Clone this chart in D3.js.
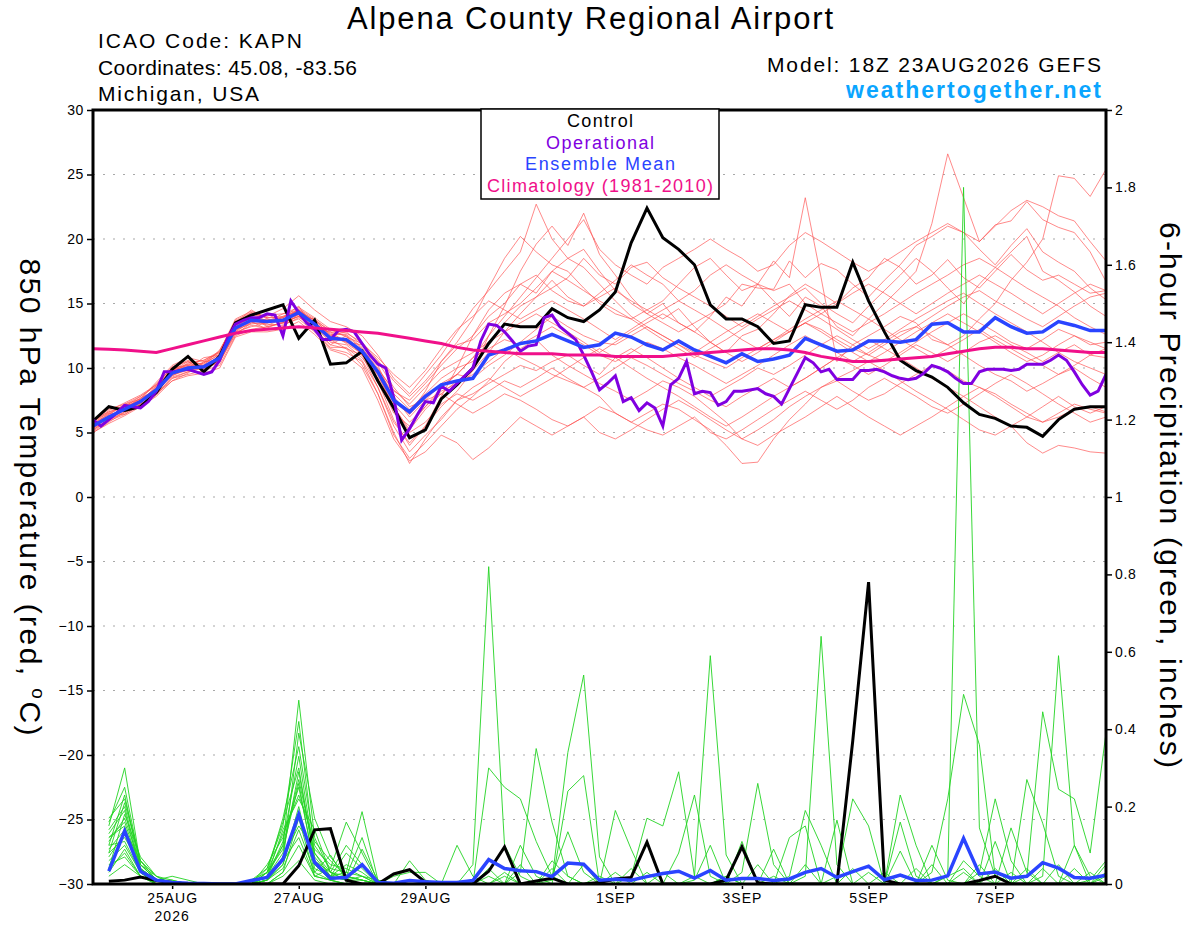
<!DOCTYPE html>
<html>
<head>
<meta charset="utf-8">
<script src="https://cdn.jsdelivr.net/npm/d3@7"></script>
<style>
  body { margin: 0; background: #fff; }
  svg { display: block; }
  text { font-family: "Liberation Sans", Arial, Helvetica, sans-serif; }
</style>
</head>
<body>
<svg id="chart" width="1200" height="927"></svg>
<script>
// GEFS plume - Alpena County Regional Airport (KAPN), run 18Z 23AUG2026
// temperature series are 6-hourly from hour 0, operational is 3-hourly,
// precipitation series are 6-hourly from hour 6

const dateTicks = [30, 78, 126, 198, 246, 294, 342]; // forecast hours at 00Z
const dateLabels = ['25AUG', '27AUG', '29AUG', '1SEP', '3SEP', '5SEP', '7SEP'];
const tempTicks = d3.range(-30, 31, 5);
const precipTicks = [0, 0.2, 0.4, 0.6, 0.8, 1, 1.2, 1.4, 1.6, 1.8, 2];

const controlTemp = [5.9, 7.0, 6.7, 7.0, 8.1, 9.9, 10.9, 9.7, 10.9, 13.5,
  14.1, 14.5, 14.9, 12.3, 13.7, 10.3, 10.4, 11.3, 9.0, 6.9,
  4.6, 5.2, 7.6, 8.7, 10.0, 11.9, 13.4, 13.2, 13.2, 14.6,
  13.9, 13.6, 14.5, 15.9, 19.7, 22.4, 20.1, 19.2, 18.0, 14.9,
  13.8, 13.8, 13.2, 11.9, 12.1, 14.9, 14.7, 14.7, 18.2, 15.2,
  12.8, 10.6, 9.8, 9.3, 8.5, 7.3, 6.4, 6.1, 5.5, 5.4,
  4.7, 6.0, 6.8, 7.0, 7.0];

const operationalTemp = [6.0, 5.5, 6.0, 6.5, 7.1, 7.0, 6.9, 7.4, 8.2, 9.7,
  9.7, 9.8, 9.9, 9.7, 9.5, 9.7, 10.6, 12.3, 13.4, 13.7,
  13.9, 13.9, 14.2, 14.1, 12.5, 15.2, 14.3, 13.5, 13.0, 12.2,
  12.2, 12.9, 13.0, 12.8, 11.9, 11.0, 10.3, 10.0, 7.7, 4.4,
  5.3, 6.4, 7.4, 7.3, 8.6, 8.2, 8.8, 9.4, 10.0, 12.1,
  13.4, 13.3, 12.8, 12.1, 11.3, 11.7, 11.8, 13.9, 14.1, 13.2,
  12.7, 12.2, 11.0, 9.7, 8.3, 8.8, 9.4, 7.4, 7.7, 6.7,
  7.3, 6.9, 5.5, 8.7, 9.2, 10.5, 8.0, 8.2, 8.1, 7.1,
  7.4, 8.2, 8.2, 8.3, 8.4, 8.0, 7.8, 7.2, 8.4, 9.6,
  10.8, 10.4, 9.7, 9.9, 9.1, 9.1, 9.1, 9.8, 9.8, 9.9,
  9.7, 9.4, 9.2, 9.1, 9.2, 9.6, 10.2, 10.0, 9.7, 9.2,
  8.8, 8.8, 9.7, 9.9, 9.9, 9.9, 9.8, 9.9, 10.3, 10.3,
  10.3, 10.6, 11.0, 10.6, 9.7, 8.7, 7.9, 8.2, 9.5];

const meanTemp = [5.5, 6.2, 6.8, 7.4, 8.3, 9.6, 10.0, 10.1, 10.8, 13.1,
  13.7, 13.6, 13.7, 14.3, 13.4, 12.3, 12.2, 11.3, 9.7, 7.5,
  6.6, 7.8, 8.7, 9.0, 9.2, 11.0, 11.4, 11.9, 12.1, 12.6,
  12.1, 11.6, 11.8, 12.7, 12.4, 11.8, 11.4, 12.1, 11.4, 10.9,
  10.4, 11.1, 10.5, 10.7, 11.0, 12.3, 11.8, 11.3, 11.4, 12.1,
  12.1, 12.0, 12.2, 13.4, 13.5, 12.8, 12.8, 13.9, 13.2, 12.7,
  12.8, 13.6, 13.3, 12.9, 12.9];

const climoTemp = [11.5, 11.45, 11.4, 11.3, 11.2, 11.5, 11.8, 12.1, 12.4, 12.7,
  12.9, 13.0, 13.1, 13.2, 13.1, 13.0, 12.9, 12.8, 12.7, 12.5,
  12.3, 12.1, 11.9, 11.6, 11.4, 11.3, 11.2, 11.1, 11.1, 11.1,
  11.0, 11.0, 11.0, 10.9, 10.9, 10.9, 10.9, 11.0, 11.1, 11.2,
  11.3, 11.4, 11.5, 11.5, 11.4, 11.2, 10.9, 10.7, 10.5, 10.5,
  10.6, 10.7, 10.8, 10.9, 11.1, 11.3, 11.5, 11.6, 11.6, 11.5,
  11.5, 11.4, 11.3, 11.2, 11.2];

// ensemble member 850 hPa temperatures
const memberTemp01 = [5.2, 6.0, 6.9, 7.6, 8.9, 10.2, 10.8, 10.5, 11.2, 13.6, 14.2, 14.0, 14.6, 15.6, 14.5, 13.6, 13.2, 12.5, 11.0, 9.2, 8.0, 9.5, 11.0, 12.8, 14.6, 16.0, 17.5, 19.0, 22.7, 20.0, 18.5, 19.2, 17.5, 16.0, 15.2, 14.5, 13.8, 14.6, 13.2, 12.0, 11.2, 12.5, 13.0, 14.2, 15.6, 16.5, 15.8, 15.0, 16.2, 17.0, 18.5, 17.8, 16.5, 17.2, 18.4, 17.0, 16.2, 17.5, 18.8, 17.6, 16.8, 17.2, 16.5, 15.8, 16.0];
const memberTemp02 = [5.6, 6.5, 6.4, 7.2, 8.0, 9.2, 9.7, 10.4, 11.0, 12.8, 13.2, 13.5, 13.9, 14.8, 13.0, 11.8, 12.5, 11.0, 8.5, 5.8, 4.2, 5.5, 7.0, 8.2, 9.8, 12.5, 14.8, 17.5, 19.6, 21.0, 19.5, 22.0, 18.8, 17.2, 15.5, 14.2, 15.0, 13.5, 12.8, 14.0, 15.5, 14.8, 16.5, 15.2, 14.0, 15.5, 14.8, 13.2, 12.5, 13.8, 15.0, 16.2, 17.5, 21.2, 26.6, 23.2, 19.8, 21.1, 21.4, 22.9, 21.5, 20.9, 20.5, 19.0, 16.7];
const memberTemp03 = [5.9, 6.8, 7.2, 7.8, 8.6, 9.8, 10.5, 9.8, 10.6, 13.2, 14.0, 13.2, 13.5, 14.0, 13.8, 12.8, 12.0, 11.8, 10.2, 7.5, 6.5, 8.2, 10.5, 12.0, 13.8, 16.2, 18.5, 20.2, 19.0, 18.0, 17.5, 16.2, 15.0, 14.2, 13.8, 14.5, 15.2, 16.5, 17.8, 18.5, 17.2, 16.0, 16.5, 18.3, 17.0, 23.2, 17.0, 10.5, 11.8, 12.5, 13.2, 14.0, 13.5, 12.2, 11.8, 12.5, 13.8, 15.0, 16.8, 18.2, 20.0, 24.9, 24.7, 23.3, 25.4];
const memberTemp04 = [5.0, 5.8, 6.6, 7.0, 8.2, 9.5, 10.0, 10.2, 10.5, 12.6, 13.5, 13.8, 13.4, 13.8, 12.8, 11.5, 11.2, 10.5, 8.0, 5.0, 2.6, 4.5, 6.2, 7.5, 8.0, 8.8, 9.5, 10.2, 9.8, 10.5, 11.0, 10.2, 9.5, 10.8, 11.5, 10.8, 10.0, 9.2, 8.5, 7.8, 8.5, 9.2, 10.0, 9.5, 10.2, 11.0, 11.8, 12.5, 11.8, 11.0, 10.5, 11.2, 12.0, 12.8, 13.5, 14.2, 13.5, 12.8, 12.0, 11.5, 12.2, 13.0, 12.5, 11.8, 12.0];
const memberTemp05 = [5.4, 6.2, 7.0, 7.5, 8.5, 9.8, 10.2, 10.0, 11.0, 13.4, 14.0, 13.5, 14.0, 14.5, 13.6, 12.5, 12.2, 11.0, 9.5, 7.0, 5.0, 5.8, 7.2, 8.0, 7.5, 8.2, 9.0, 8.5, 9.2, 10.0, 9.2, 8.5, 7.8, 6.5, 5.8, 6.5, 7.2, 6.8, 6.0, 5.2, 4.0, 2.6, 2.7, 4.5, 6.0, 7.2, 8.5, 9.0, 8.2, 7.5, 8.0, 8.8, 9.5, 10.2, 9.8, 9.0, 8.5, 7.8, 7.0, 6.2, 5.8, 6.5, 7.2, 6.8, 6.5];
const memberTemp06 = [6.0, 6.6, 7.0, 7.4, 8.0, 9.0, 9.6, 10.5, 10.6, 12.8, 13.6, 13.0, 13.2, 14.2, 13.0, 12.8, 12.5, 11.5, 10.0, 8.2, 7.5, 8.8, 10.2, 11.5, 12.5, 14.0, 15.0, 16.5, 17.2, 16.0, 15.2, 14.8, 15.5, 16.2, 15.0, 14.2, 13.5, 12.8, 13.5, 14.2, 15.0, 16.5, 16.2, 16.1, 18.3, 17.0, 18.1, 17.6, 16.5, 15.5, 16.8, 18.0, 19.5, 20.2, 21.0, 20.5, 19.2, 18.0, 19.5, 20.8, 19.0, 18.2, 17.5, 16.2, 15.3];
const memberTemp07 = [5.3, 6.0, 6.5, 7.3, 8.4, 9.5, 9.8, 10.0, 10.4, 12.9, 13.8, 14.2, 13.5, 14.0, 13.2, 12.0, 11.8, 10.8, 9.2, 6.5, 5.5, 7.0, 8.5, 9.5, 10.8, 11.5, 12.2, 11.8, 12.5, 13.2, 12.5, 11.8, 11.0, 10.5, 11.2, 12.0, 11.5, 10.8, 10.2, 9.5, 8.8, 9.5, 10.2, 11.0, 11.8, 12.5, 11.8, 11.2, 10.5, 11.2, 12.0, 12.8, 13.2, 12.5, 11.8, 11.0, 10.2, 9.5, 9.0, 8.2, 8.8, 9.5, 10.0, 9.2, 8.5];
const memberTemp08 = [5.7, 6.4, 7.2, 7.6, 8.8, 10.0, 10.6, 10.2, 11.4, 13.5, 14.5, 13.8, 13.6, 14.6, 13.8, 12.5, 12.8, 11.8, 10.5, 8.5, 7.0, 7.5, 8.0, 7.2, 6.5, 7.2, 8.0, 7.5, 6.8, 6.0, 5.5, 6.2, 7.0, 6.5, 5.8, 5.2, 4.8, 5.5, 6.2, 5.0, 4.5, 5.2, 6.0, 6.8, 7.5, 8.2, 7.5, 6.8, 7.5, 8.5, 9.2, 8.5, 7.8, 7.0, 6.5, 7.2, 8.0, 8.8, 9.5, 8.8, 8.0, 7.2, 6.5, 5.8, 6.2];
const memberTemp09 = [5.5, 6.1, 6.8, 7.7, 8.2, 9.4, 10.0, 10.8, 11.0, 13.0, 13.4, 13.6, 14.2, 14.5, 13.5, 12.2, 11.5, 11.0, 9.8, 8.0, 6.8, 8.0, 9.2, 10.0, 10.5, 12.0, 13.5, 14.8, 15.5, 16.2, 17.0, 18.5, 17.2, 16.5, 17.8, 18.2, 17.0, 16.2, 15.5, 14.8, 14.0, 13.2, 14.0, 14.8, 15.5, 16.2, 15.0, 14.2, 13.5, 14.8, 16.0, 17.2, 18.5, 17.5, 16.2, 15.0, 16.5, 17.8, 19.0, 20.2, 17.5, 16.8, 15.9, 14.8, 14.0];
const memberTemp10 = [5.1, 5.9, 6.4, 7.1, 7.9, 9.2, 9.5, 9.8, 10.2, 12.5, 13.0, 13.2, 13.5, 14.2, 13.0, 11.8, 11.5, 10.2, 8.0, 4.8, 3.0, 4.2, 5.5, 6.8, 7.8, 9.0, 10.5, 11.5, 12.2, 11.0, 10.2, 9.5, 8.8, 8.2, 7.5, 8.2, 9.0, 8.5, 7.8, 6.8, 5.8, 4.5, 5.2, 6.0, 7.0, 7.8, 8.5, 9.2, 9.8, 10.5, 9.8, 9.0, 8.2, 7.5, 6.8, 6.0, 5.2, 4.8, 5.5, 4.2, 3.4, 4.0, 3.8, 3.5, 3.4];
const memberTemp11 = [5.8, 6.7, 7.3, 7.9, 8.7, 10.0, 10.2, 10.4, 11.3, 13.8, 14.4, 13.9, 14.0, 14.4, 13.7, 12.6, 12.6, 11.6, 9.8, 7.8, 6.2, 7.5, 8.8, 9.5, 9.2, 10.2, 11.0, 12.0, 13.0, 14.0, 13.2, 12.5, 12.0, 11.8, 12.5, 13.2, 12.5, 11.8, 11.0, 10.5, 10.0, 10.8, 11.5, 12.2, 12.8, 13.5, 13.0, 12.2, 11.5, 11.0, 11.8, 12.5, 13.2, 14.0, 14.8, 15.5, 16.0, 15.2, 14.5, 13.8, 13.2, 14.0, 14.8, 15.5, 15.8];
const memberTemp12 = [5.4, 6.3, 6.7, 7.5, 8.1, 9.7, 10.3, 10.0, 10.9, 13.3, 13.9, 13.3, 13.8, 14.1, 13.1, 12.4, 12.0, 11.2, 9.0, 6.0, 4.0, 5.5, 7.8, 10.0, 12.5, 14.5, 15.8, 16.5, 15.8, 17.5, 18.5, 17.8, 16.5, 15.2, 14.0, 13.2, 12.5, 11.8, 11.2, 12.0, 12.8, 13.5, 14.2, 13.5, 12.8, 13.5, 14.2, 15.0, 15.8, 16.5, 15.8, 15.0, 14.2, 15.0, 15.8, 16.5, 17.2, 16.5, 15.8, 15.0, 14.2, 15.0, 15.8, 16.5, 16.0];
const memberTemp13 = [5.6, 6.2, 6.9, 7.3, 8.3, 9.4, 9.9, 10.1, 10.7, 12.9, 13.5, 13.4, 13.3, 13.9, 13.3, 12.1, 12.3, 11.4, 9.6, 7.2, 5.8, 7.0, 8.2, 8.8, 9.5, 10.5, 11.5, 10.8, 10.2, 9.5, 9.0, 8.5, 9.2, 10.0, 10.8, 10.2, 9.5, 8.8, 8.2, 7.5, 7.0, 7.8, 8.5, 9.2, 8.5, 9.2, 10.0, 10.8, 10.2, 9.5, 10.2, 11.0, 11.8, 11.2, 10.5, 11.2, 12.0, 12.5, 11.8, 11.2, 10.5, 11.2, 11.8, 11.0, 10.8];
const memberTemp14 = [5.2, 6.0, 6.6, 7.4, 8.6, 9.9, 10.1, 9.9, 10.8, 13.2, 13.9, 13.7, 13.7, 14.3, 13.4, 12.7, 11.9, 11.1, 9.4, 7.0, 5.2, 6.8, 8.0, 9.0, 9.8, 11.2, 12.8, 14.2, 15.5, 16.8, 15.5, 14.8, 15.8, 16.8, 18.0, 17.2, 16.5, 15.2, 14.5, 13.8, 13.0, 12.2, 11.5, 12.2, 13.0, 13.8, 14.5, 15.2, 14.5, 13.8, 13.0, 12.2, 11.5, 10.8, 11.5, 12.2, 13.0, 12.2, 11.5, 10.8, 10.2, 9.5, 10.2, 11.0, 11.5];
const memberTemp15 = [5.9, 6.5, 7.1, 7.6, 8.4, 9.6, 10.4, 10.6, 11.2, 13.6, 14.1, 14.1, 14.2, 14.7, 13.9, 13.0, 12.4, 11.9, 10.8, 9.5, 8.5, 9.8, 11.5, 13.0, 14.0, 15.2, 14.5, 13.8, 14.5, 15.2, 14.5, 13.8, 13.0, 12.2, 13.0, 13.8, 14.5, 15.2, 16.0, 17.2, 18.0, 17.2, 16.5, 16.0, 16.5, 15.0, 14.2, 13.5, 12.8, 13.5, 14.2, 15.0, 15.8, 16.5, 17.2, 18.0, 18.5, 17.8, 17.0, 16.2, 15.5, 14.8, 13.9, 13.2, 12.6];
const memberTemp16 = [5.4, 6.1, 6.7, 7.2, 8.0, 9.3, 9.7, 10.0, 10.5, 12.7, 13.3, 13.1, 13.6, 14.0, 12.9, 11.6, 11.6, 10.6, 8.5, 5.5, 3.5, 4.8, 6.0, 7.5, 8.5, 9.2, 8.5, 7.8, 8.5, 9.2, 10.0, 10.8, 11.5, 10.8, 10.0, 9.2, 8.5, 7.8, 7.0, 6.2, 5.5, 6.2, 7.0, 7.8, 8.5, 9.2, 10.0, 10.8, 11.5, 12.2, 11.5, 10.8, 10.0, 9.2, 8.5, 7.8, 7.0, 6.2, 5.5, 6.2, 7.0, 7.8, 7.0, 6.5, 7.0];
const memberTemp17 = [5.7, 6.6, 7.0, 7.8, 8.7, 10.1, 10.5, 10.3, 11.1, 13.4, 14.3, 13.6, 13.9, 14.4, 13.5, 12.3, 12.1, 11.3, 9.9, 8.3, 7.2, 8.5, 9.8, 10.5, 11.2, 12.0, 12.8, 13.5, 14.2, 13.5, 12.8, 12.0, 11.2, 12.0, 12.8, 13.5, 14.2, 13.5, 12.8, 12.0, 11.2, 10.5, 11.2, 12.0, 12.8, 13.5, 12.8, 12.0, 11.2, 10.5, 11.2, 12.0, 12.8, 13.5, 14.2, 13.5, 12.8, 12.0, 11.2, 10.5, 11.0, 11.8, 12.5, 12.0, 11.5];
const memberTemp18 = [5.3, 6.3, 6.8, 7.5, 8.4, 9.7, 10.1, 10.2, 10.9, 13.1, 13.7, 13.5, 13.7, 14.3, 13.4, 12.2, 12.2, 11.2, 9.6, 7.4, 6.4, 7.7, 8.6, 9.5, 10.8, 12.5, 14.0, 15.5, 17.0, 18.5, 20.0, 21.5, 19.2, 18.0, 17.2, 16.5, 17.8, 18.5, 19.2, 20.0, 19.2, 18.5, 17.5, 18.0, 19.5, 20.5, 19.8, 19.0, 18.2, 17.5, 18.2, 19.0, 19.8, 20.5, 21.2, 20.5, 19.8, 21.0, 22.2, 23.0, 22.5, 21.8, 21.4, 19.8, 18.3];
const memberTemp19 = [5.0, 5.7, 6.3, 7.0, 7.8, 9.0, 9.4, 9.6, 10.0, 12.4, 12.8, 12.8, 13.0, 13.6, 12.6, 11.4, 11.0, 10.0, 7.5, 4.5, 2.8, 3.5, 4.8, 4.2, 2.9, 3.8, 5.0, 6.2, 5.5, 4.8, 5.5, 6.2, 5.0, 4.5, 5.2, 6.0, 6.8, 7.5, 6.8, 6.0, 5.2, 4.5, 4.0, 4.8, 5.5, 6.2, 7.0, 7.8, 7.0, 6.2, 5.5, 4.8, 5.5, 6.2, 7.0, 7.8, 8.5, 8.0, 7.2, 6.5, 5.8, 6.2, 6.8, 7.0, 6.6];
const memberTemp20 = [5.6, 6.4, 7.1, 7.3, 8.5, 9.9, 10.3, 10.6, 11.3, 13.7, 14.3, 13.9, 13.9, 14.5, 13.7, 12.9, 12.7, 12.0, 10.6, 9.0, 7.8, 9.0, 10.5, 11.8, 12.2, 13.5, 14.2, 15.0, 16.2, 17.5, 16.8, 16.0, 15.2, 14.5, 13.8, 13.0, 12.2, 11.5, 10.8, 11.5, 12.2, 13.0, 13.8, 14.5, 15.2, 14.5, 13.8, 13.0, 12.2, 11.5, 12.2, 13.0, 13.8, 14.5, 15.2, 15.8, 15.0, 14.2, 13.5, 12.8, 12.0, 11.2, 10.5, 10.0, 9.5];

const controlPrecip = [0.007, 0.01, 0.018, 0.009, 0.004, 0, 0, 0, 0, 0, 0, 0, 0.047, 0.14, 0.143, 0.01, 0, 0, 0.026, 0.037, 0.005, 0, 0, 0, 0.033, 0.096, 0, 0.008, 0.015, 0, 0, 0.004, 0.013, 0.017, 0.108, 0, 0, 0, 0, 0.01, 0.096, 0.003, 0, 0, 0, 0, 0, 0.37, 0.78, 0.01, 0, 0, 0, 0, 0, 0.009, 0.02, 0, 0, 0, 0, 0, 0, 0];
const meanPrecip = [0.033, 0.137, 0.033, 0.01, 0.004, 0.002, 0.001, 0, 0, 0.009, 0.017, 0.064, 0.18, 0.056, 0.015, 0.017, 0.05, 0.004, 0.002, 0.009, 0.006, 0.004, 0.004, 0.009, 0.063, 0.04, 0.034, 0.032, 0.019, 0.054, 0.051, 0.01, 0.012, 0.01, 0.019, 0.027, 0.033, 0.015, 0.035, 0.01, 0.014, 0.014, 0.009, 0.013, 0.03, 0.04, 0.017, 0.032, 0.046, 0.011, 0.023, 0.009, 0.01, 0.021, 0.118, 0.026, 0.031, 0.015, 0.02, 0.055, 0.041, 0.017, 0.015, 0.023];

// ensemble member 6-hour precipitation
const memberPrecip01 = [0.15, 0.30, 0.05, 0.01, 0, 0, 0, 0, 0, 0, 0.02, 0.10, 0.475, 0.12, 0.03, 0.01, 0, 0, 0, 0.06, 0.01, 0, 0, 0.05, 0.82, 0.10, 0.02, 0, 0, 0, 0, 0, 0, 0, 0, 0, 0, 0.01, 0.10, 0, 0, 0, 0, 0, 0.02, 0.64, 0.05, 0, 0, 0, 0, 0, 0, 0, 0.03, 0, 0, 0, 0, 0.02, 0.59, 0.10, 0, 0];
const memberPrecip02 = [0.10, 0.23, 0.04, 0, 0, 0, 0, 0, 0, 0, 0.04, 0.15, 0.42, 0.08, 0.02, 0.05, 0.03, 0, 0, 0, 0, 0, 0, 0, 0.30, 0.25, 0.22, 0.11, 0.02, 0, 0, 0, 0, 0, 0, 0, 0, 0, 0, 0, 0.03, 0.26, 0.05, 0, 0, 0, 0, 0, 0, 0, 0, 0, 0, 0.02, 1.80, 0.145, 0.02, 0, 0, 0, 0, 0, 0.01, 0.06];
const memberPrecip03 = [0.17, 0.22, 0.06, 0.01, 0.01, 0, 0, 0, 0, 0, 0.01, 0.06, 0.39, 0.17, 0.07, 0.02, 0.01, 0, 0, 0, 0, 0, 0.10, 0.02, 0, 0, 0, 0, 0.01, 0.34, 0.54, 0.07, 0, 0, 0, 0, 0, 0, 0, 0, 0, 0, 0, 0, 0, 0, 0, 0, 0, 0, 0.23, 0.10, 0, 0, 0, 0, 0, 0, 0.02, 0.445, 0.245, 0.22, 0.08, 0.39];
const memberPrecip04 = [0.04, 0.18, 0.07, 0.02, 0, 0, 0, 0, 0, 0.01, 0.03, 0.17, 0.355, 0.10, 0.04, 0.16, 0.08, 0, 0, 0, 0, 0, 0, 0, 0, 0, 0.03, 0.35, 0.16, 0.02, 0, 0, 0, 0, 0, 0, 0, 0.02, 0.59, 0.075, 0, 0, 0, 0, 0, 0, 0, 0, 0, 0, 0, 0, 0.03, 0.22, 0.49, 0.36, 0.02, 0, 0, 0, 0, 0, 0, 0];
const memberPrecip05 = [0.12, 0.15, 0.03, 0, 0, 0, 0, 0, 0, 0, 0.02, 0.08, 0.29, 0.06, 0.02, 0.03, 0.187, 0.01, 0, 0, 0, 0, 0, 0, 0, 0, 0.10, 0.02, 0, 0.24, 0.28, 0, 0, 0, 0, 0, 0, 0, 0, 0, 0, 0, 0, 0.02, 0.19, 0.10, 0, 0, 0, 0, 0, 0, 0, 0, 0, 0.03, 0.22, 0.06, 0, 0, 0, 0, 0, 0];
const memberPrecip06 = [0.08, 0.12, 0.05, 0.01, 0, 0, 0, 0, 0, 0, 0.05, 0.12, 0.25, 0.05, 0.01, 0.02, 0.12, 0, 0, 0, 0, 0, 0, 0, 0, 0, 0, 0, 0.02, 0.135, 0.03, 0, 0.19, 0.09, 0, 0, 0, 0, 0, 0, 0, 0, 0, 0, 0, 0, 0.02, 0.22, 0.15, 0, 0, 0, 0, 0, 0, 0, 0, 0, 0.27, 0.157, 0.02, 0, 0, 0];
const memberPrecip07 = [0.03, 0.09, 0.02, 0, 0, 0, 0, 0, 0, 0, 0.01, 0.05, 0.20, 0.03, 0.075, 0.01, 0.02, 0, 0, 0, 0, 0, 0, 0, 0.02, 0, 0, 0, 0, 0, 0, 0, 0, 0.02, 0.17, 0.15, 0.29, 0.02, 0, 0, 0, 0, 0, 0, 0, 0, 0, 0, 0, 0, 0.16, 0.02, 0, 0, 0, 0, 0.11, 0, 0, 0, 0, 0.10, 0.02, 0];
const memberPrecip08 = [0.14, 0.20, 0.04, 0.01, 0.02, 0.01, 0, 0, 0, 0, 0, 0.03, 0.17, 0.02, 0.01, 0, 0.09, 0.01, 0, 0, 0, 0, 0, 0, 0, 0, 0, 0, 0, 0, 0, 0, 0, 0, 0, 0, 0.08, 0.23, 0.02, 0, 0, 0, 0, 0.12, 0.15, 0, 0, 0, 0, 0, 0, 0, 0.10, 0.01, 0, 0, 0, 0.145, 0.03, 0, 0, 0, 0, 0];
const memberPrecip09 = [0.06, 0.10, 0.03, 0, 0, 0, 0, 0, 0, 0, 0.02, 0.14, 0.22, 0.14, 0.03, 0.10, 0.05, 0, 0, 0, 0, 0, 0, 0, 0, 0, 0, 0, 0, 0, 0, 0, 0, 0, 0, 0, 0, 0, 0, 0, 0.11, 0, 0, 0, 0, 0, 0.165, 0, 0, 0, 0.085, 0, 0, 0, 0, 0.05, 0, 0, 0, 0, 0, 0, 0, 0];
const memberPrecip10 = [0.11, 0.17, 0.05, 0.01, 0, 0, 0, 0, 0, 0, 0.03, 0.09, 0.26, 0.04, 0.02, 0.01, 0, 0, 0.02, 0.03, 0.03, 0, 0, 0, 0, 0, 0, 0, 0, 0, 0, 0, 0, 0, 0, 0, 0, 0, 0, 0, 0, 0, 0.09, 0, 0, 0, 0, 0, 0, 0, 0, 0.04, 0, 0, 0, 0, 0, 0, 0, 0, 0, 0, 0, 0.05];
const memberPrecip11 = [0.02, 0.05, 0.02, 0, 0, 0, 0, 0, 0, 0, 0, 0.02, 0.06, 0.01, 0, 0, 0, 0, 0, 0, 0, 0, 0, 0, 0.04, 0, 0, 0, 0.06, 0.02, 0, 0, 0, 0, 0, 0, 0, 0, 0, 0, 0, 0, 0, 0, 0.05, 0, 0, 0, 0, 0, 0, 0, 0, 0, 0.06, 0.02, 0, 0, 0, 0, 0, 0.04, 0, 0.02];
const memberPrecip12 = [0.09, 0.14, 0.06, 0.02, 0, 0, 0, 0, 0, 0, 0.01, 0.07, 0.15, 0.09, 0.05, 0.04, 0.02, 0, 0, 0.01, 0, 0, 0, 0, 0, 0.03, 0, 0, 0, 0, 0.05, 0, 0, 0.04, 0, 0, 0, 0, 0, 0, 0, 0, 0, 0, 0, 0, 0, 0, 0, 0.03, 0, 0, 0, 0, 0, 0, 0, 0, 0.04, 0, 0, 0, 0, 0.03];
const memberPrecip13 = [0.13, 0.19, 0.03, 0, 0, 0, 0, 0, 0, 0.01, 0.04, 0.16, 0.30, 0.06, 0.03, 0.01, 0.01, 0, 0, 0, 0, 0, 0, 0, 0, 0, 0, 0, 0, 0, 0, 0, 0.03, 0, 0, 0, 0, 0, 0, 0, 0, 0.05, 0, 0, 0, 0, 0, 0, 0, 0, 0, 0, 0, 0.02, 0.04, 0, 0, 0, 0, 0, 0.05, 0, 0, 0];
const memberPrecip14 = [0.05, 0.07, 0.02, 0, 0, 0, 0, 0, 0, 0, 0, 0.03, 0.10, 0.02, 0.01, 0, 0, 0, 0, 0, 0, 0, 0, 0, 0, 0, 0.05, 0, 0, 0, 0, 0, 0, 0, 0.03, 0, 0, 0, 0, 0, 0, 0, 0, 0, 0, 0, 0, 0, 0.03, 0, 0, 0, 0, 0, 0, 0, 0, 0, 0, 0, 0, 0, 0, 0];
const memberPrecip15 = [0.07, 0.13, 0.04, 0.01, 0, 0, 0, 0, 0, 0, 0.02, 0.11, 0.33, 0.07, 0.02, 0.08, 0.04, 0, 0, 0, 0, 0, 0, 0, 0, 0, 0, 0, 0.04, 0, 0, 0, 0, 0, 0, 0.03, 0, 0, 0, 0, 0, 0, 0, 0, 0, 0, 0, 0.04, 0, 0, 0, 0, 0, 0, 0, 0, 0.04, 0, 0, 0, 0, 0, 0, 0];
const memberPrecip16 = [0.16, 0.25, 0.05, 0.02, 0.01, 0, 0, 0, 0, 0, 0.03, 0.13, 0.23, 0.11, 0.06, 0.02, 0.01, 0, 0, 0, 0, 0, 0, 0, 0, 0, 0, 0, 0, 0, 0, 0, 0, 0, 0, 0, 0, 0, 0, 0.02, 0, 0, 0, 0, 0, 0, 0, 0, 0, 0, 0, 0, 0.05, 0, 0, 0, 0, 0, 0, 0, 0, 0, 0.03, 0];
const memberPrecip17 = [0.10, 0.11, 0.03, 0, 0, 0, 0, 0, 0, 0, 0.01, 0.04, 0.14, 0.03, 0.01, 0, 0, 0, 0, 0, 0, 0, 0, 0, 0, 0, 0, 0, 0, 0, 0, 0.02, 0, 0, 0, 0, 0, 0, 0, 0, 0, 0, 0.02, 0, 0, 0, 0, 0, 0, 0, 0, 0, 0, 0, 0, 0, 0, 0.03, 0, 0, 0, 0, 0, 0];
const memberPrecip18 = [0.04, 0.08, 0.02, 0, 0, 0, 0, 0, 0, 0, 0.02, 0.06, 0.12, 0.02, 0.04, 0.03, 0.02, 0.01, 0, 0, 0, 0, 0, 0, 0, 0, 0, 0, 0, 0, 0, 0, 0, 0, 0, 0, 0, 0, 0, 0, 0, 0, 0, 0, 0, 0, 0, 0, 0, 0, 0, 0, 0, 0, 0, 0, 0, 0, 0, 0.04, 0, 0, 0, 0];
const memberPrecip19 = [0.12, 0.16, 0.04, 0.01, 0, 0, 0, 0, 0, 0, 0.01, 0.05, 0.18, 0.05, 0.02, 0.01, 0, 0, 0, 0, 0, 0, 0, 0, 0, 0.02, 0, 0, 0, 0, 0, 0, 0, 0, 0, 0, 0, 0, 0, 0.02, 0, 0, 0, 0, 0, 0, 0, 0, 0, 0, 0, 0, 0, 0, 0, 0, 0, 0, 0, 0, 0, 0, 0, 0];
const memberPrecip20 = [0.08, 0.21, 0.06, 0.01, 0, 0, 0, 0, 0, 0, 0.03, 0.10, 0.27, 0.08, 0.03, 0.02, 0.01, 0, 0, 0, 0, 0, 0, 0, 0, 0, 0, 0, 0, 0, 0, 0, 0, 0, 0, 0, 0, 0, 0, 0, 0, 0, 0, 0, 0, 0, 0, 0, 0, 0, 0, 0, 0, 0, 0, 0, 0, 0, 0, 0, 0, 0, 0, 0];

const memberTemps = [memberTemp01, memberTemp02, memberTemp03, memberTemp04, memberTemp05,
  memberTemp06, memberTemp07, memberTemp08, memberTemp09, memberTemp10,
  memberTemp11, memberTemp12, memberTemp13, memberTemp14, memberTemp15,
  memberTemp16, memberTemp17, memberTemp18, memberTemp19, memberTemp20];
const memberPrecips = [memberPrecip01, memberPrecip02, memberPrecip03, memberPrecip04, memberPrecip05,
  memberPrecip06, memberPrecip07, memberPrecip08, memberPrecip09, memberPrecip10,
  memberPrecip11, memberPrecip12, memberPrecip13, memberPrecip14, memberPrecip15,
  memberPrecip16, memberPrecip17, memberPrecip18, memberPrecip19, memberPrecip20];

const legendLabels = ['Control', 'Operational', 'Ensemble Mean', 'Climatology (1981-2010)'];
const infoLines = ['ICAO Code: KAPN', 'Coordinates: 45.08, -83.56', 'Michigan, USA'];

// ---- styles ----
const COLORS = {
  control: '#000000',
  operational: '#8000e0',
  mean: '#2a44ff',
  climo: '#f0108a',
  member: '#ff5050',
  memberPrecip: '#22d422',
  site: '#0aa5ff'
};
const legendColors = [COLORS.control, COLORS.operational, COLORS.mean, COLORS.climo];
const legendWidths = [66, 108, 150, 226];
const infoWidths = [204, 259, 161];

// ---- layout ----
const plot = { left: 93, right: 1106, top: 110, bottom: 884 };
const svg = d3.select('#chart');

const x = d3.scaleLinear().domain([0, 384]).range([plot.left, plot.right]);
const yT = d3.scaleLinear().domain([-30, 30]).range([plot.bottom, plot.top]);
const yP = d3.scaleLinear().domain([0, 2]).range([plot.bottom, plot.top]);

svg.append('rect').attr('width', 1200).attr('height', 927).attr('fill', '#fff');

svg.append('clipPath').attr('id', 'plotClip')
  .append('rect')
  .attr('x', plot.left).attr('y', plot.top)
  .attr('width', plot.right - plot.left).attr('height', plot.bottom - plot.top);

// dotted grid every 5 degrees
svg.append('g')
  .selectAll('line')
  .data(tempTicks.filter(t => t > -30 && t < 30))
  .join('line')
  .attr('x1', plot.left).attr('x2', plot.right)
  .attr('y1', d => yT(d)).attr('y2', d => yT(d))
  .attr('stroke', '#a8a8a8')
  .attr('stroke-width', 1.2)
  .attr('stroke-dasharray', '2,8');

const tempLine = d3.line().x((d, i) => x(i * 6)).y(d => yT(d));
const opLine = d3.line().x((d, j) => x(j * 3)).y(d => yT(d));
const precipLine = d3.line().x((d, k) => x((k + 1) * 6)).y(d => yP(d));

const lines = svg.append('g').attr('clip-path', 'url(#plotClip)')
  .attr('fill', 'none').attr('stroke-linejoin', 'miter');

lines.selectAll('.member-t')
  .data(memberTemps)
  .join('path')
  .attr('class', 'member-t')
  .attr('d', tempLine)
  .attr('stroke', COLORS.member)
  .attr('stroke-opacity', 0.75)
  .attr('stroke-width', 0.9);

lines.selectAll('.member-p')
  .data(memberPrecips)
  .join('path')
  .attr('class', 'member-p')
  .attr('d', precipLine)
  .attr('stroke', COLORS.memberPrecip)
  .attr('stroke-width', 0.9);

lines.append('path').attr('d', precipLine(controlPrecip))
  .attr('stroke', COLORS.control).attr('stroke-width', 3);
lines.append('path').attr('d', precipLine(meanPrecip))
  .attr('stroke', COLORS.mean).attr('stroke-width', 3.5);

lines.append('path').attr('d', tempLine(controlTemp))
  .attr('stroke', COLORS.control).attr('stroke-width', 3);
lines.append('path').attr('d', opLine(operationalTemp))
  .attr('stroke', COLORS.operational).attr('stroke-width', 3);
lines.append('path').attr('d', tempLine(meanTemp))
  .attr('stroke', COLORS.mean).attr('stroke-width', 3.5);
lines.append('path').attr('d', tempLine(climoTemp))
  .attr('stroke', COLORS.climo).attr('stroke-width', 3);

// ---- axes ----
const axisFont = '14px';

const leftAxis = svg.append('g')
  .attr('transform', `translate(${plot.left},0)`)
  .call(d3.axisLeft(yT).tickValues(tempTicks).tickSize(6).tickPadding(3).tickFormat(d3.format('d')));
const rightAxis = svg.append('g')
  .attr('transform', `translate(${plot.right},0)`)
  .call(d3.axisRight(yP).tickValues(precipTicks).tickSize(6).tickPadding(3).tickFormat(d => String(+d.toFixed(1))));
const bottomAxis = svg.append('g')
  .attr('transform', `translate(0,${plot.bottom})`)
  .call(d3.axisBottom(x).tickValues(dateTicks).tickSize(5).tickPadding(4).tickFormat((d, i) => dateLabels[i]));

[leftAxis, rightAxis, bottomAxis].forEach(g => {
  g.select('.domain').remove();
  g.selectAll('.tick line').attr('stroke', '#000').attr('stroke-width', 1.5);
  g.selectAll('.tick text').attr('fill', '#000').attr('font-size', axisFont)
    .attr('letter-spacing', '0.6px')
    .attr('font-family', '"Liberation Sans", Arial, sans-serif');
});
bottomAxis.selectAll('.tick line').attr('y1', 2);
bottomAxis.selectAll('.tick text').attr('letter-spacing', '1px');

// year under the first date label
svg.append('text')
  .attr('x', x(dateTicks[0])).attr('y', 921)
  .attr('text-anchor', 'middle').attr('font-size', axisFont)
  .attr('letter-spacing', '1px')
  .text('2026');

// plot frame
svg.append('rect')
  .attr('x', plot.left).attr('y', plot.top)
  .attr('width', plot.right - plot.left).attr('height', plot.bottom - plot.top)
  .attr('fill', 'none').attr('stroke', '#000').attr('stroke-width', 3);

// ---- legend ----
const legend = svg.append('g');
legend.append('rect')
  .attr('x', 481).attr('y', 109).attr('width', 238).attr('height', 90)
  .attr('fill', '#fff').attr('stroke', '#000').attr('stroke-width', 1.5);
legend.selectAll('text')
  .data(legendLabels)
  .join('text')
  .attr('x', 600)
  .attr('y', (d, i) => 127 + i * 21.7)
  .attr('text-anchor', 'middle')
  .attr('font-size', '18px')
  .attr('textLength', (d, i) => legendWidths[i])
  .attr('lengthAdjust', 'spacing')
  .attr('fill', (d, i) => legendColors[i])
  .text(d => d);

// ---- titles ----
svg.append('text')
  .attr('x', 590).attr('y', 29)
  .attr('text-anchor', 'middle').attr('font-size', '31px')
  .attr('textLength', 486).attr('lengthAdjust', 'spacing')
  .text('Alpena County Regional Airport');

svg.append('g').selectAll('text')
  .data(infoLines)
  .join('text')
  .attr('x', 98)
  .attr('y', (d, i) => 48 + i * 26.5)
  .attr('font-size', '21px')
  .attr('textLength', (d, i) => infoWidths[i])
  .attr('lengthAdjust', 'spacing')
  .text(d => d);

svg.append('text')
  .attr('x', 1101).attr('y', 72)
  .attr('text-anchor', 'end').attr('font-size', '21px')
  .attr('textLength', 334).attr('lengthAdjust', 'spacing')
  .text('Model: 18Z 23AUG2026 GEFS');

svg.append('text')
  .attr('x', 1101).attr('y', 98)
  .attr('text-anchor', 'end').attr('font-size', '23px').attr('font-weight', 'bold')
  .attr('fill', COLORS.site)
  .attr('textLength', 255).attr('lengthAdjust', 'spacing')
  .text('weathertogether.net');

// axis titles (both read top to bottom)
const leftTitle = svg.append('text')
  .attr('transform', 'translate(20,497) rotate(90)')
  .attr('text-anchor', 'middle').attr('font-size', '30px')
  .attr('textLength', 477).attr('lengthAdjust', 'spacing');
leftTitle.append('tspan').text('850 hPa Temperature (red, ');
leftTitle.append('tspan').attr('font-size', '19px').attr('dy', -12).text('o');
leftTitle.append('tspan').attr('dy', 12).text('C)');

svg.append('text')
  .attr('transform', 'translate(1160,495) rotate(90)')
  .attr('text-anchor', 'middle').attr('font-size', '30px')
  .attr('textLength', 546).attr('lengthAdjust', 'spacing')
  .text('6-hour Precipitation (green, inches)');
</script>
</body>
</html>
